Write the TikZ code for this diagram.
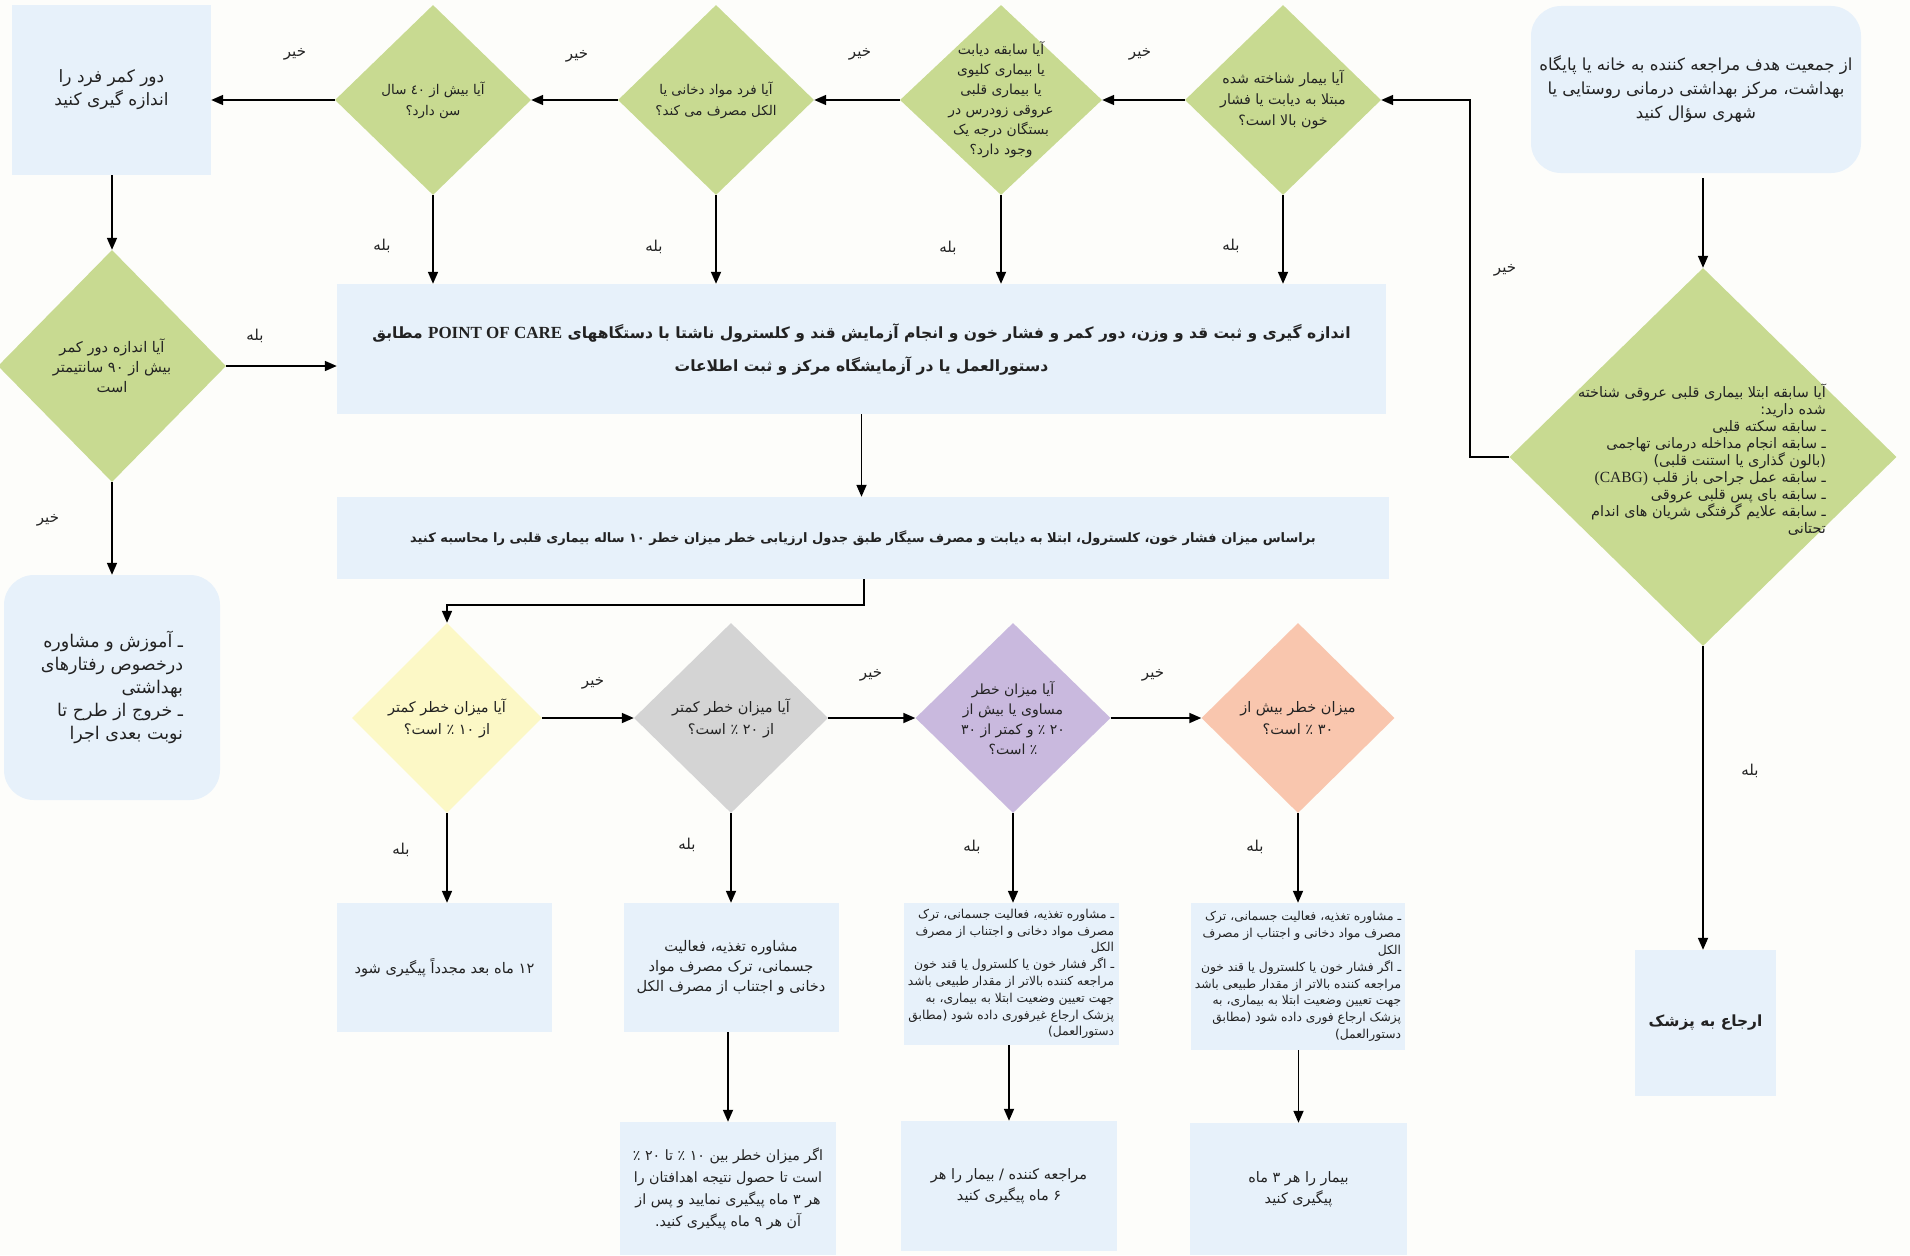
\documentclass[tikz,border=0pt]{standalone}
\usepackage{fontspec}
\usetikzlibrary{shapes.geometric,arrows.meta,calc}
\TeXXeTstate=1
\newfontfamily\fa[Script=Arabic]{DejaVu Sans}
\newfontfamily\lat{Liberation Serif}
\newcommand\rtline[1]{\beginR #1\endR}
\definecolor{bgc}{HTML}{FDFDFA}
\definecolor{boxblue}{HTML}{E7F1FA}
\definecolor{cgreen}{HTML}{C8DA91}
\definecolor{cyellow}{HTML}{FCF8C6}
\definecolor{cgray}{HTML}{D4D4D4}
\definecolor{cpurple}{HTML}{C9B9DE}
\definecolor{corange}{HTML}{F9C6AE}
\definecolor{ink}{HTML}{222222}
\tikzset{
  box/.style={rectangle, fill=boxblue, inner sep=0pt, align=center, text=ink},
  rbox/.style={box, rounded corners=30pt},
  dia/.style={diamond, inner sep=0pt, aspect=1},
  qtext/.style={align=center, text=ink, inner sep=0pt},
  lab/.style={font={\fa\fontsize{15}{17}\selectfont}, text=ink, inner sep=1pt},
  arr/.style={-{Triangle[length=12pt,width=10pt]}, line width=1.7pt, draw=black},
  ln/.style={line width=1.7pt, draw=black}
}
\begin{document}
\begin{tikzpicture}[x=1pt,y=-1pt]
\fill[bgc] (0,0) rectangle (1910,1255);
\useasboundingbox (0,0) rectangle (1910,1255);

% ---------- top row ----------
\node[rbox, minimum width=330pt, minimum height=167pt, font={\fa\fontsize{16.6}{24}\selectfont}] (start) at (1696,89.5)
 {\rtline{از جمعیت هدف مراجعه کننده به خانه یا پایگاه}\\\rtline{بهداشت، مرکز بهداشتی درمانی روستایی یا}\\\rtline{شهری سؤال کنید}};

\node[dia, fill=cgreen, minimum width=196pt, minimum height=190pt] (d1) at (1283,100) {};
\node[qtext, font={\fa\fontsize{14.2}{21}\selectfont}] (t1) at (d1)
 {\rtline{آیا بیمار شناخته شده}\\\rtline{مبتلا به دیابت یا فشار}\\\rtline{خون بالا است؟}};

\node[dia, fill=cgreen, minimum width=202pt, minimum height=190pt] (d2) at (1001,100) {};
\node[qtext, font={\fa\fontsize{13.8}{20}\selectfont}] (t2) at (d2)
 {\rtline{آیا سابقه دیابت}\\\rtline{یا بیماری کلیوی}\\\rtline{یا بیماری قلبی}\\\rtline{عروقی زودرس در}\\\rtline{بستگان درجه یک}\\\rtline{وجود دارد؟}};

\node[dia, fill=cgreen, minimum width=196pt, minimum height=190pt] (d3) at (716,100) {};
\node[qtext, font={\fa\fontsize{13.4}{21}\selectfont}] (t3) at (d3)
 {\rtline{آیا فرد مواد دخانی یا}\\\rtline{الکل مصرف می کند؟}};

\node[dia, fill=cgreen, minimum width=196pt, minimum height=190pt] (d4) at (433,100) {};
\node[qtext, font={\fa\fontsize{13.4}{21}\selectfont}] (t4) at (d4)
 {\rtline{آیا بیش از ٤٠ سال}\\\rtline{سن دارد؟}};

\node[box, minimum width=199pt, minimum height=170pt, font={\fa\fontsize{17}{23}\selectfont}] (waist) at (111.5,90)
 {\rtline{دور کمر فرد را}\\\rtline{اندازه گیری کنید}};

% ---------- left column ----------
\node[dia, fill=cgreen, minimum width=228pt, minimum height=232pt] (d5) at (112,366) {};
\node[qtext, font={\fa\fontsize{14.6}{20}\selectfont}] (t5) at (d5)
 {\rtline{آیا اندازه دور کمر}\\\rtline{بیش از ۹۰ سانتیمتر}\\\rtline{است}};

\node[rbox, minimum width=216pt, minimum height=225pt, align=right, font={\fa\fontsize{17.5}{23}\selectfont}] (lbox) at (112,687.5)
 {\rtline{ـ آموزش و مشاوره}\\\rtline{درخصوص رفتارهای}\\\rtline{بهداشتی}\\\rtline{ـ خروج از طرح تا}\\\rtline{نوبت بعدی اجرا}};

% ---------- middle boxes ----------
\node[box, minimum width=1049pt, minimum height=130pt, font={\fa\bfseries\fontsize{15.5}{33}\selectfont}] (poc) at (861.5,349)
 {\rtline{اندازه گیری و ثبت قد و وزن، دور کمر و فشار خون و انجام آزمایش قند و کلسترول ناشتا با دستگاههای \beginL{\lat\bfseries\fontsize{17}{33}\selectfont POINT OF CARE}\endL{} مطابق}\\\rtline{دستورالعمل یا در آزمایشگاه مرکز و ثبت اطلاعات}};

\node[box, minimum width=1052pt, minimum height=82pt, font={\fa\bfseries\fontsize{13}{18}\selectfont}] (calc) at (863,538)
 {\rtline{براساس میزان فشار خون، کلسترول، ابتلا به دیابت و مصرف سیگار طبق جدول ارزیابی خطر میزان خطر ۱۰ ساله بیماری قلبی را محاسبه کنید}};

% ---------- right column ----------
\node[dia, fill=cgreen, minimum width=387pt, minimum height=378pt] (bigd) at (1703,457) {};
\node[qtext, align=right, font={\fa\fontsize{14.4}{17}\selectfont}] (tb) at (1702,460)
 {\rtline{آیا سابقه ابتلا بیماری قلبی عروقی شناخته}\\\rtline{شده دارید:}\\\rtline{ـ سابقه سکته قلبی}\\\rtline{ـ سابقه انجام مداخله درمانی تهاجمی}\\\rtline{(بالون گذاری یا استنت قلبی)}\\\rtline{ـ سابقه عمل جراحی باز قلب {\lat\fontsize{15.5}{17}\selectfont(CABG)}}\\\rtline{ـ سابقه بای پس قلبی عروقی}\\\rtline{ـ سابقه علایم گرفتگی شریان های اندام}\\\rtline{تحتانی}};

\node[box, minimum width=141pt, minimum height=146pt, font={\fa\bfseries\fontsize{15.4}{20}\selectfont}] (refer) at (1705.5,1023)
 {\rtline{ارجاع به پزشک}};

% ---------- bottom diamonds ----------
\node[dia, fill=cyellow, minimum width=190pt, minimum height=190pt] (dy) at (447,718) {};
\node[qtext, font={\fa\fontsize{14.5}{22}\selectfont}] (ty) at (dy)
 {\rtline{آیا میزان خطر کمتر}\\\rtline{از ۱۰ ٪ است؟}};
\node[dia, fill=cgray, minimum width=194pt, minimum height=190pt] (dg) at (731,718) {};
\node[qtext, font={\fa\fontsize{14.5}{22}\selectfont}] (tg) at (dg)
 {\rtline{آیا میزان خطر کمتر}\\\rtline{از ۲۰ ٪ است؟}};
\node[dia, fill=cpurple, minimum width=195pt, minimum height=190pt] (dp) at (1013,718) {};
\node[qtext, font={\fa\fontsize{14}{20}\selectfont}] (tp) at (dp)
 {\rtline{آیا میزان خطر}\\\rtline{مساوی یا بیش از}\\\rtline{۲۰ ٪ و کمتر از ۳۰}\\\rtline{٪ است؟}};
\node[dia, fill=corange, minimum width=193pt, minimum height=190pt] (do) at (1298,718) {};
\node[qtext, font={\fa\fontsize{14.5}{22}\selectfont}] (to) at (do)
 {\rtline{میزان خطر بیش از}\\\rtline{۳۰ ٪ است؟}};

% ---------- bottom boxes ----------
\node[box, minimum width=215pt, minimum height=129pt, font={\fa\fontsize{14.6}{20}\selectfont}] (by) at (444.5,967.5)
 {\rtline{۱۲ ماه بعد مجدداً پیگیری شود}};
\node[box, minimum width=215pt, minimum height=129pt, font={\fa\fontsize{14.6}{20}\selectfont}] (bg) at (731,967.5)
 {\rtline{مشاوره تغذیه، فعالیت}\\\rtline{جسمانی، ترک مصرف مواد}\\\rtline{دخانی و اجتناب از مصرف الکل}};
\node[box, minimum width=215pt, minimum height=142pt, align=right, font={\fa\fontsize{12.3}{16.8}\selectfont}] (bp) at (1011,974)
 {\rtline{ـ مشاوره تغذیه، فعالیت جسمانی، ترک}\\\rtline{مصرف مواد دخانی و اجتناب از مصرف}\\\rtline{الکل}\\\rtline{ـ اگر فشار خون یا کلسترول یا قند خون}\\\rtline{مراجعه کننده بالاتر از مقدار طبیعی باشد}\\\rtline{جهت تعیین وضعیت ابتلا به بیماری، به}\\\rtline{پزشک ارجاع غیرفوری داده شود (مطابق}\\\rtline{دستورالعمل)}};
\node[box, minimum width=214pt, minimum height=147pt, align=right, font={\fa\fontsize{12.3}{16.8}\selectfont}] (bo) at (1298,976.5)
 {\rtline{ـ مشاوره تغذیه، فعالیت جسمانی، ترک}\\\rtline{مصرف مواد دخانی و اجتناب از مصرف}\\\rtline{الکل}\\\rtline{ـ اگر فشار خون یا کلسترول یا قند خون}\\\rtline{مراجعه کننده بالاتر از مقدار طبیعی باشد}\\\rtline{جهت تعیین وضعیت ابتلا به بیماری، به}\\\rtline{پزشک ارجاع فوری داده شود (مطابق}\\\rtline{دستورالعمل)}};

\node[box, minimum width=216pt, minimum height=133pt, font={\fa\fontsize{14.2}{22}\selectfont}] (bg2) at (728,1188.5)
 {\rtline{اگر میزان خطر بین ۱۰ ٪ تا ۲۰ ٪}\\\rtline{است تا حصول نتیجه اهدافتان را}\\\rtline{هر ۳ ماه پیگیری نمایید و پس از}\\\rtline{آن هر ۹ ماه پیگیری کنید.}};
\node[box, minimum width=216pt, minimum height=130pt, font={\fa\fontsize{14.4}{21}\selectfont}] (bp2) at (1009,1186)
 {\rtline{مراجعه کننده / بیمار را هر}\\\rtline{۶ ماه پیگیری کنید}};
\node[box, minimum width=217pt, minimum height=132pt, font={\fa\fontsize{14.4}{21}\selectfont}] (bo2) at (1298.5,1189)
 {\rtline{بیمار را هر ۳ ماه}\\\rtline{پیگیری کنید}};

% ---------- connectors ----------
\draw[arr] (bigd.north |- start.south) ++(0,5) -- (bigd.north);
\coordinate (k1) at (1470,457);
\draw[arr] (bigd.west) -- (k1) |- (d1.east);
\draw[arr] (bigd.south) -- (bigd.south |- refer.north);
\draw[arr] (d1.west) -- (d2.east);
\draw[arr] (d2.west) -- (d3.east);
\draw[arr] (d3.west) -- (d4.east);
\draw[arr] (d4.west) -- (d4.west -| waist.east);
\draw[arr] (d1.south) -- (d1.south |- poc.north);
\draw[arr] (d2.south) -- (d2.south |- poc.north);
\draw[arr] (d3.south) -- (d3.south |- poc.north);
\draw[arr] (d4.south) -- (d4.south |- poc.north);
\draw[arr] (d5.north |- waist.south) -- (d5.north);
\draw[arr] (d5.east) -- (d5.east -| poc.west);
\draw[arr] (d5.south) -- (d5.south |- lbox.north);
\draw[arr] (poc.south) -- (poc.south |- calc.north);
\coordinate (k2) at (864,605);
\draw[arr] (calc.south -| k2) -- (k2) -| (dy.north);
\draw[arr] (dy.east) -- (dg.west);
\draw[arr] (dg.east) -- (dp.west);
\draw[arr] (dp.east) -- (do.west);
\draw[arr] (dy.south) -- (dy.south |- by.north);
\draw[arr] (dg.south) -- (dg.south |- bg.north);
\draw[arr] (dp.south) -- (dp.south |- bp.north);
\draw[arr] (do.south) -- (do.south |- bo.north);
\draw[arr] (bg2.north |- bg.south) -- (bg2.north);
\draw[arr] (bp2.north |- bp.south) -- (bp2.north);
\draw[arr] (bo2.north |- bo.south) -- (bo2.north);

% ---------- labels ----------
\node[lab] (n1) at (1505,270) {\rtline{خیر}};
\node[lab] (n2) at (1140,54) {\rtline{خیر}};
\node[lab] (n3) at (860,54) {\rtline{خیر}};
\node[lab] (n4) at (577,56) {\rtline{خیر}};
\node[lab] (n5) at (295,54) {\rtline{خیر}};
\node[lab] (n6) at (48,520) {\rtline{خیر}};
\node[lab] (n7) at (593,683) {\rtline{خیر}};
\node[lab] (n8) at (871,675) {\rtline{خیر}};
\node[lab] (n9) at (1153,675) {\rtline{خیر}};
\node[lab] (y1) at (1750,771) {\rtline{بله}};
\node[lab] (y2) at (1231,246) {\rtline{بله}};
\node[lab] (y3) at (948,248) {\rtline{بله}};
\node[lab] (y4) at (654,247) {\rtline{بله}};
\node[lab] (y5) at (382,246) {\rtline{بله}};
\node[lab] (y6) at (255,336) {\rtline{بله}};
\node[lab] (y7) at (401,850) {\rtline{بله}};
\node[lab] (y8) at (687,845) {\rtline{بله}};
\node[lab] (y9) at (972,847) {\rtline{بله}};
\node[lab] (y10) at (1255,847) {\rtline{بله}};
\end{tikzpicture}
\end{document}
